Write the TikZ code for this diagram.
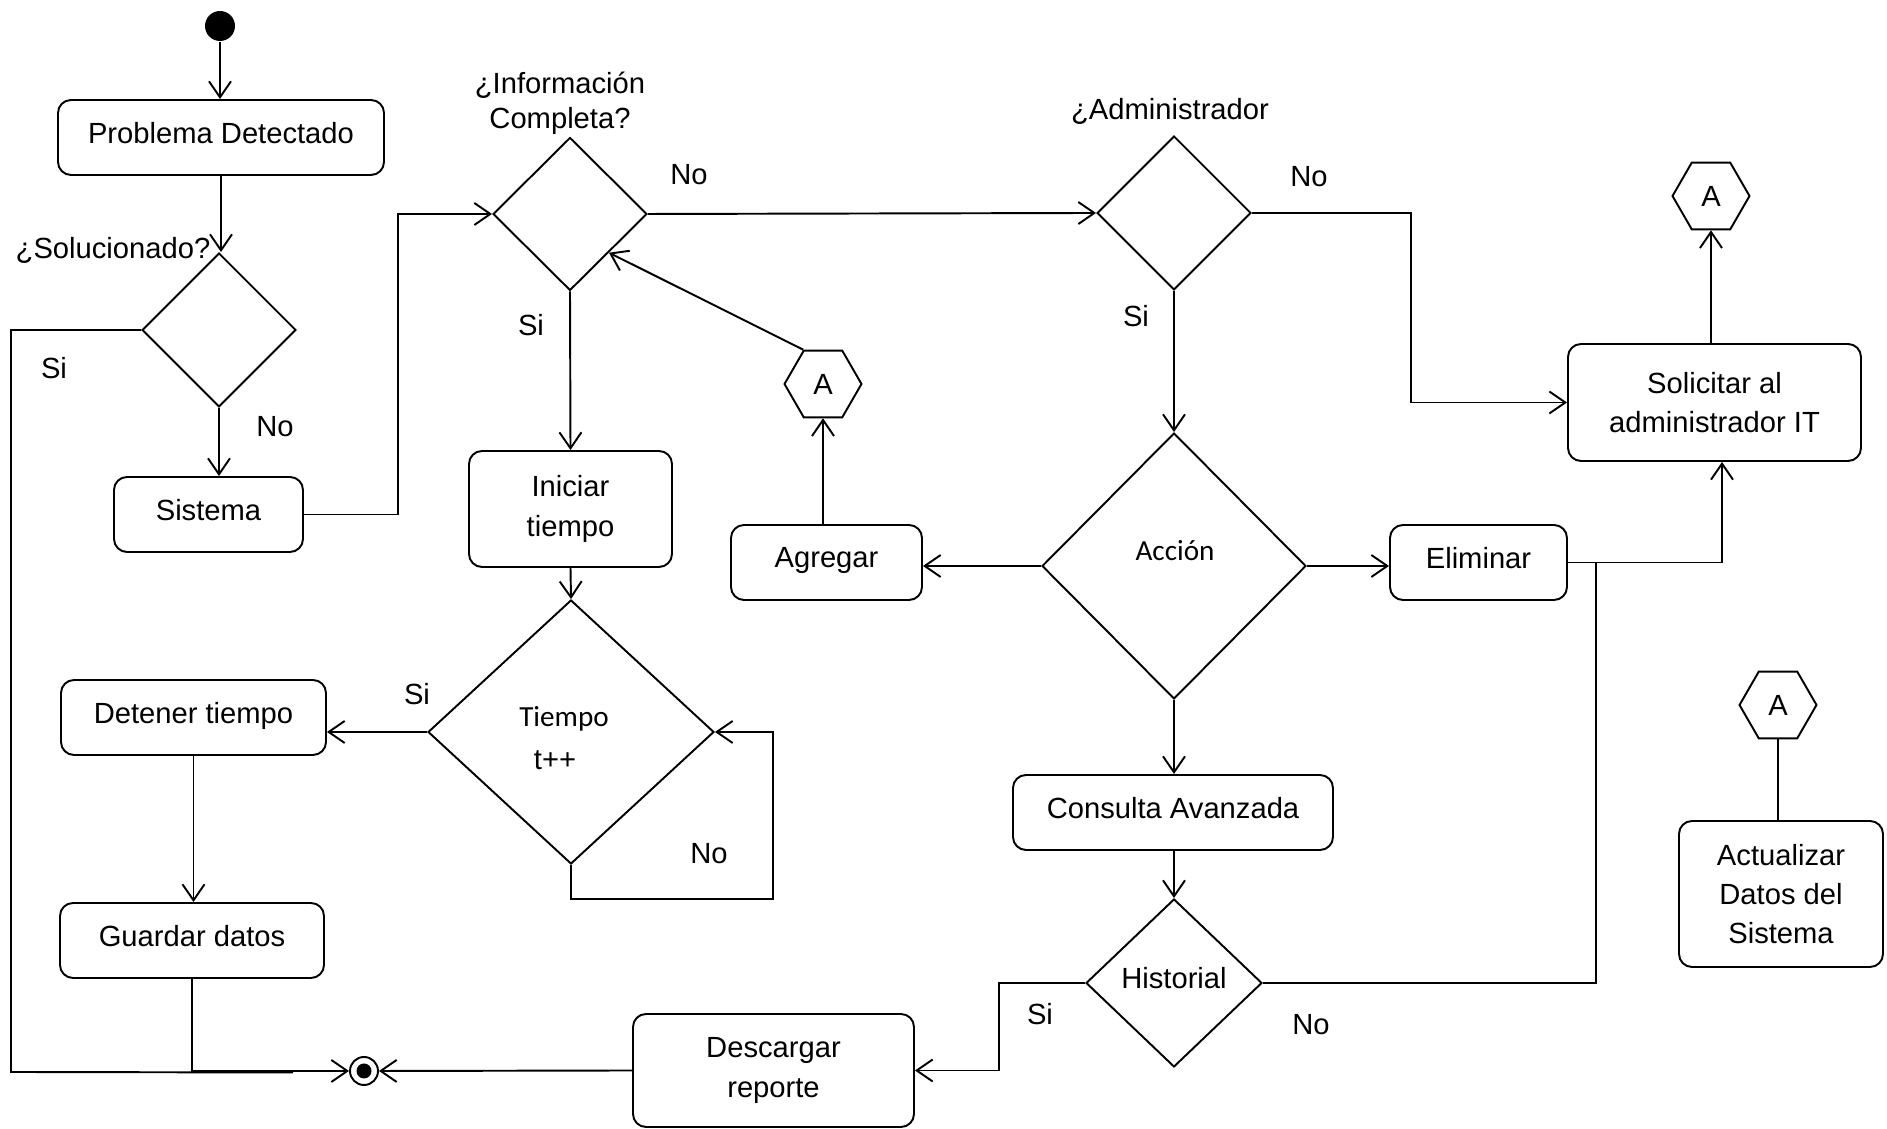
\documentclass[tikz,border=0pt]{standalone}
\usepackage{fontspec}
\setmainfont{Liberation Sans}
\newfontfamily\calibrifont{Carlito}
\usetikzlibrary{shapes.geometric,arrows.meta}

\begin{document}
\begin{tikzpicture}[>={Straight Barb[length=1.6mm,width=2.2mm]}, line width=0.55pt,
  font=\fontsize{8.3}{11.2}\selectfont,
  box/.style={draw, rounded corners=1.3mm, align=center, inner sep=0pt},
  onerow/.style={box, text depth=2.8pt},
  decision/.style={draw, diamond, inner sep=0pt},
  hexa/.style={draw, regular polygon, regular polygon sides=6, minimum size=0.77cm, inner sep=0pt}]
\useasboundingbox (0,0) rectangle (18.87,11.29);
% left column
\node[circle, fill, minimum size=0.30cm, inner sep=0pt] (start) at (2.20,11.03) {};
\node[onerow, minimum width=3.26cm, minimum height=0.75cm] (prob) at (2.21,9.915) {Problema Detectado};
\node[decision, minimum width=1.54cm, minimum height=1.54cm] (soluc) at (2.19,7.99) {};
\node[onerow, minimum width=1.89cm, minimum height=0.75cm] (sist) at (2.085,6.145) {Sistema};
\node[onerow, minimum width=2.65cm, minimum height=0.75cm] (deten) at (1.935,4.115) {Detener tiempo};
\node[onerow, minimum width=2.64cm, minimum height=0.75cm] (guard) at (1.92,1.885) {Guardar datos};
\node[circle, draw, minimum size=0.28cm, inner sep=0pt] (fin) at (3.64,0.58) {};
\fill (fin.center) circle (0.075);
% middle
\node[decision, minimum width=1.54cm, minimum height=1.53cm] (info) at (5.70,9.15) {};
\node[box, minimum width=2.03cm, minimum height=1.16cm] (inic) at (5.705,6.20) {Iniciar\\tiempo};
\node[decision, minimum width=2.86cm, minimum height=2.64cm] (tiempo) at (5.71,3.97) {};
\node[hexa] (hexA1) at (8.23,7.45) {A};
\node[onerow, minimum width=1.91cm, minimum height=0.75cm] (agreg) at (8.265,5.665) {Agregar};
\node[box, minimum width=2.81cm, minimum height=1.13cm] (desc) at (7.735,0.585) {Descargar\\reporte};
\node[decision, minimum width=1.54cm, minimum height=1.54cm] (admin) at (11.74,9.16) {};
\node[decision, minimum width=2.64cm, minimum height=2.66cm] (accion) at (11.74,5.63) {};
\node[onerow, minimum width=3.20cm, minimum height=0.75cm] (consul) at (11.73,3.165) {Consulta Avanzada};
\node[decision, text depth=2.8pt, minimum width=1.76cm, minimum height=1.68cm] (hist) at (11.74,1.46) {Historial};
% right
\node[onerow, minimum width=1.77cm, minimum height=0.75cm] (elim) at (14.785,5.665) {Eliminar};
\node[box, minimum width=2.93cm, minimum height=1.17cm] (solic) at (17.145,7.265) {Solicitar al\\administrador IT};
\node[hexa] (hexA2) at (17.11,9.33) {A};
\node[hexa] (hexA3) at (17.78,4.24) {A};
\node[box, minimum width=2.04cm, minimum height=1.46cm] (actual) at (17.81,2.35) {Actualizar\\Datos del\\Sistema};

% texts
\node (lblSoluc) at (1.13,8.79) {¿Solucionado?};
\node (siSoluc) at (0.54,7.61) {Si};
\node (noSoluc) at (2.75,7.02) {No};
\node[align=center, font=\fontsize{8.3}{10}\selectfont] (lblInfo) at (5.60,10.26) {¿Información\\Completa?};
\node (siInfo) at (5.31,8.04) {Si};
\node (noInfo) at (6.89,9.54) {No};
\node (lblAdmin) at (11.70,10.18) {¿Administrador};
\node (noAdmin) at (13.09,9.52) {No};
\node (siAdmin) at (11.36,8.13) {Si};
\node[font=\calibrifont\fontsize{8.3}{10}\selectfont] (lblTiempo) at (5.64,4.10) {Tiempo};
\node (lblTpp) at (5.55,3.69) {t++};
\node (siTiempo) at (4.17,4.35) {Si};
\node (noTiempo) at (7.09,2.75) {No};
\node[font=\calibrifont\fontsize{8.3}{10}\selectfont] (lblAccion) at (11.75,5.78) {Acción};
\node (siHist) at (10.40,1.15) {Si};
\node (noHist) at (13.11,1.04) {No};

% connectors
\coordinate (siCorner) at (0.11,0.57);
\coordinate (siEnd) at (2.93,0.565);
\path (elim.east) ++(0.28,0) coordinate (junc);
\draw[->] (start) -- (start |- prob.north);
\draw[->] (prob.south) -- (prob.south |- soluc.north);
\draw[->] (soluc.south) -- (soluc.south |- sist.north);
\draw (soluc.west) -| (siCorner) -- (siEnd);
\draw[->] (sist.east) -- ++(0.94,0) |- (info.west);
\draw[->] (info.east) -- (admin.west);
\draw[->] (info.south) -- (inic.north);
\draw[->] (inic.south) -- (tiempo.north);
\draw[->] (tiempo.west) -- (tiempo.west -| deten.east);
\draw[->] (tiempo.south) |- ++(2.02,-0.34) |- (tiempo.east);
\draw[->] (deten.south) -- (deten.south |- guard.north);
\draw[->] (guard.south) |- (fin.west);
\draw[->] (admin.south) -- (accion.north);
\draw[->] (admin.east) -- ++(1.59,0) |- (solic.west);
\draw[->] (accion.west) -- (accion.west -| agreg.east);
\draw[->] (accion.east) -- (accion.east -| elim.west);
\draw[->] (hexA1.south |- agreg.north) -- (hexA1.south);
\draw[->] (hexA1.corner 2) -- (info.south east);
\draw[->] (accion.south) -- (accion.south |- consul.north);
\draw[->] (consul.south -| hist.north) -- (hist.north);
\draw[->] (hist.west) -- ++(-0.86,0) |- (desc.east);
\draw[->] (desc.west) -- (fin.east);
\draw (hist.east) -| (junc);
\draw[->] (elim.east) -| ([xshift=0.075cm]solic.south);
\draw[->] (hexA2.south |- solic.north) -- (hexA2.south);
\draw (hexA3.south) -- (hexA3.south |- actual.north);
\end{tikzpicture}
\end{document}
